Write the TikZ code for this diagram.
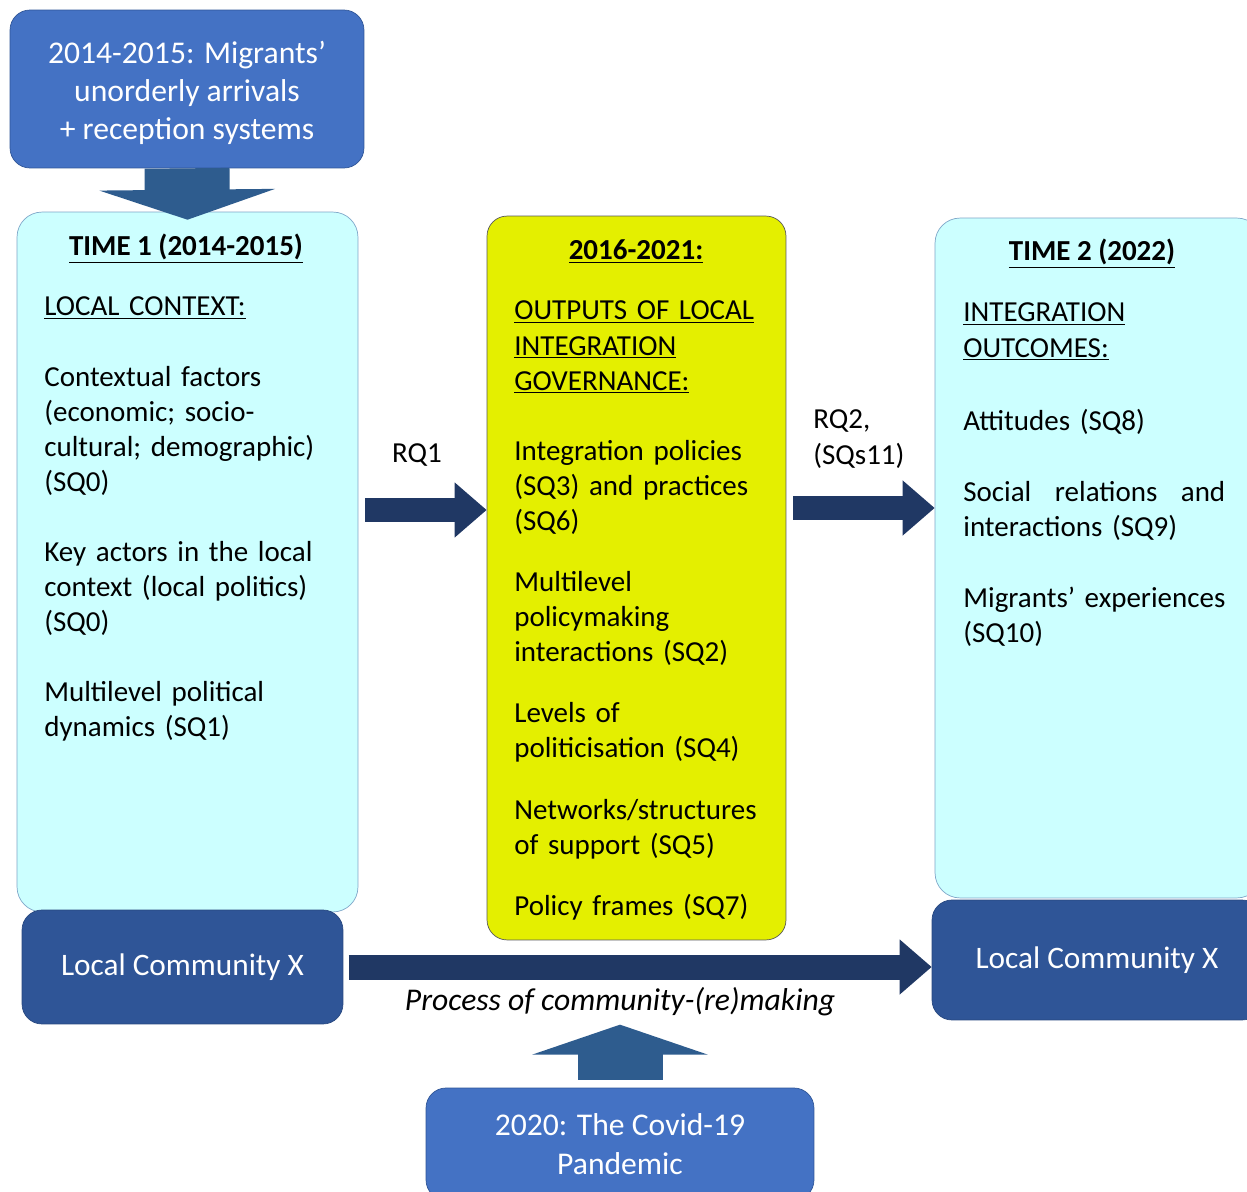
\documentclass[tikz,border=0pt]{standalone}
\usepackage{fontspec}
\setmainfont{Carlito}
\usepackage{tikz}
\usetikzlibrary{arrows.meta,backgrounds,calc}

\definecolor{eventblue}{HTML}{4472C4}
\definecolor{communityblue}{HTML}{2F5597}
\definecolor{flownavy}{HTML}{203864}
\definecolor{pushblue}{HTML}{2E5C8E}
\definecolor{timecyan}{HTML}{CCFFFF}
\definecolor{timeline}{HTML}{7FA7C9}
\definecolor{outputyellow}{HTML}{E4EF00}

\tikzset{
  eventbox/.style={draw=communityblue, fill=eventblue, rounded corners=0.4cm, text=white, align=center, font=\fontsize{18}{21.8}\selectfont},
  communitybox/.style={draw=communityblue!85!black, fill=communityblue, rounded corners=0.4cm, text=white, font=\fontsize{17.8}{21.8}\selectfont},
  timebox/.style={draw=timeline, fill=timecyan, rounded corners=0.5cm},
  outputbox/.style={draw=black!65, fill=outputyellow, rounded corners=0.4cm},
  bodytext/.style={inner sep=0pt, anchor=base west, align=left, font=\fontsize{16.5}{19.95}\selectfont},
  headtext/.style={inner sep=0pt, anchor=base, font=\bfseries\fontsize{16.5}{19.95}\selectfont},
  flowarrow/.style={draw=flownavy, line width=0.5cm, -{Triangle[length=0.64cm,width=1.06cm]}},
  pusharrow/.style={draw=pushblue, line width=1.7cm, -{Triangle[length=0.6cm,width=3.5cm]}},
}

\begin{document}
\begin{tikzpicture}[x=0.02cm,y=-0.02cm]
\useasboundingbox (0,0) rectangle (1247,1192);
\fill[white] (0,0) rectangle (1247,1192);
\clip (0,0) rectangle (1247,1192);

% boxes
\node[timebox, minimum width=6.82cm, minimum height=14cm] (time1) at (187.5,562) {};
\node[outputbox, minimum width=5.98cm, minimum height=14.48cm] (outputs) at (636.5,578) {};
\node[timebox, minimum width=6.54cm, minimum height=13.6cm] (time2) at (1098.5,558) {};
\node[eventbox, minimum width=7.08cm, minimum height=3.16cm] (arrivals) at (187,89)
  {\rule{0pt}{17pt}2014-2015: Migrants'\\unorderly arrivals\\+ reception systems};
\node[communitybox, minimum width=6.42cm, minimum height=2.28cm] (community1) at (182.5,967) {Local Community X};
\node[communitybox, minimum width=6.6cm, minimum height=2.4cm] (community2) at (1097,960) {Local Community X};
\node[eventbox, minimum width=7.76cm, minimum height=2.24cm] (covid) at (620,1144) {2020: The Covid-19\\Pandemic};

% texts
\node[headtext] (time1head) at (186,256) {\underline{TIME 1 (2014-2015)}};
\node[bodytext, text width=6cm] (time1text) at (44,316) {\underline{LOCAL CONTEXT:}\\[19.95pt]
Contextual factors\\
(economic; socio-\\
cultural; demographic)\\
(SQ0)\\[19.95pt]
Key actors in the local\\
context (local politics)\\
(SQ0)\\[19.95pt]
Multilevel political\\
dynamics (SQ1)};

\node[headtext] (outputshead) at (636,260) {\underline{2016-2021:}};
\node[bodytext, text width=5.6cm] (outputstext) at (514,320) {\underline{OUTPUTS OF LOCAL}\\
\underline{INTEGRATION}\\
\underline{GOVERNANCE:}\\[19.95pt]
Integration policies\\
(SQ3) and practices\\
(SQ6)\\[14.9pt]
Multilevel\\
policymaking\\
interactions (SQ2)\\[14.9pt]
Levels of\\
politicisation (SQ4)\\[14.9pt]
Networks/structures\\
of support (SQ5)\\[14.9pt]
Policy frames (SQ7)};

\node[headtext] (time2head) at (1092,261) {\underline{TIME 2 (2022)}};
\node[bodytext, text width=5.8cm] (time2text) at (963,322) {\underline{INTEGRATION}\\
\underline{OUTCOMES:}\\[22pt]
Attitudes (SQ8)\\[20.4pt]
\makebox[5.24cm][s]{Social\hfill relations\hfill and}\\
interactions (SQ9)\\[20.4pt]
Migrants' experiences\\
(SQ10)};

% arrows
\coordinate (arrivalstip) at ($(time1.north)+(0,8)$);
\draw[pusharrow] (arrivals.south) -- (arrivalstip);
\coordinate (covidfoot) at ($(covid.north)+(0,-8)$);
\coordinate (covidtip) at ($(covid.north)+(0,-63)$);
\draw[pusharrow] (covidfoot) -- (covidtip);
\draw[flowarrow, shorten <=4pt] (time1.east |- 0,510) -- (outputs.west |- 0,510);
\draw[flowarrow, shorten <=4pt] (outputs.east |- 0,508) -- (time2.west |- 0,508);
\draw[flowarrow, shorten <=3pt] (community1.east) -- (community2.west |- community1.east);

% labels
\node[font=\fontsize{16.5}{19.95}\selectfont] (rq1) at (417,455) {RQ1};
\node[bodytext, text width=3cm] (rq2) at (813,429) {RQ2,\\(SQs11)};
\node[font=\itshape\fontsize{18}{21}\selectfont] (remaking) at (620,1002) {Process of community-(re)making};
\end{tikzpicture}
\end{document}
